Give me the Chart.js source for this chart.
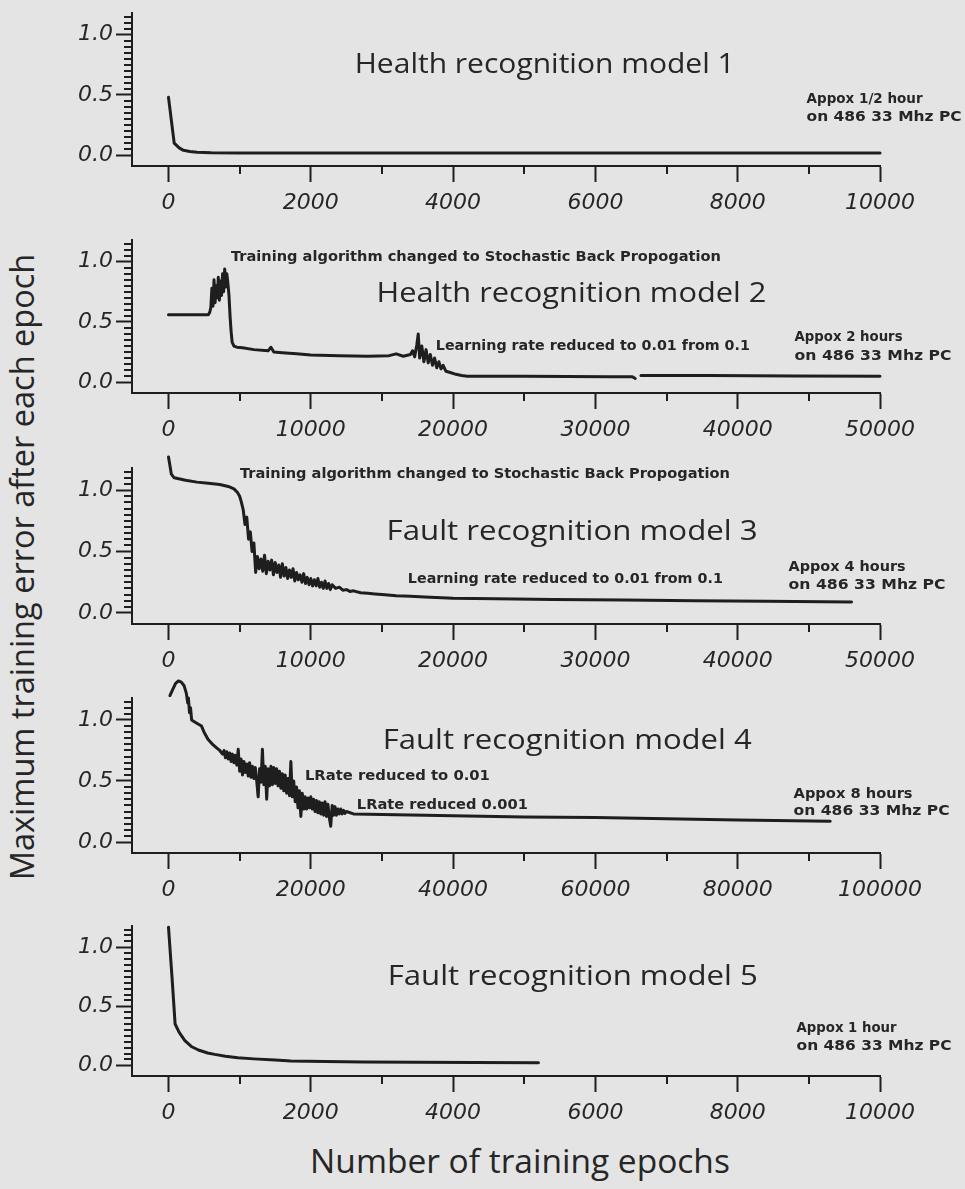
<!DOCTYPE html>
<html><head><meta charset="utf-8">
<script src="https://cdn.jsdelivr.net/npm/chart.js@4.4.0/dist/chart.umd.min.js"></script>
<style>
html,body{margin:0;padding:0;background:#e4e4e4;}
body{width:965px;height:1189px;position:relative;overflow:hidden;}
canvas{position:absolute;left:0;}
.axt{position:absolute;font-family:"Open Sans";color:#262626;white-space:nowrap;line-height:1;}
#ytitle{font-size:32.5px;left:22px;top:567px;transform:translate(-50%,-50%) rotate(-90deg);}
#xtitle{font-size:33.5px;left:520px;top:1161px;transform:translate(-50%,-50%);}
</style></head><body>
<div id="ytitle" class="axt">Maximum training error after each epoch</div>
<div id="xtitle" class="axt">Number of training epochs</div>
<canvas id="c1" width="965" height="243" style="top:-17px"></canvas>
<canvas id="c2" width="965" height="243" style="top:210px"></canvas>
<canvas id="c3" width="965" height="246" style="top:438px"></canvas>
<canvas id="c4" width="965" height="245" style="top:668px"></canvas>
<canvas id="c5" width="965" height="240" style="top:896px"></canvas>
<script>
// ---------------- data ----------------
const m1Epochs = [0, 80, 150, 210, 300, 400, 600, 1000, 2000, 4000, 6000, 8000, 10000];
const m1Errors = [0.48, 0.10, 0.06, 0.04, 0.03, 0.025, 0.02, 0.018, 0.017, 0.017, 0.018, 0.018, 0.018];

const m2Epochs = [0, 2800, 2900, 2975, 3050, 3125, 3200, 3275, 3350, 3425, 3500, 3575, 3650, 3725, 3800, 3875, 3950, 4025, 4100, 4175, 4250, 4325, 4400, 4475, 4600, 4800, 5200, 6000, 7000, 7200, 7400, 8000, 9000, 10000, 12000, 14000, 15500, 16000, 16500, 17000, 17150, 17300, 17450, 17550, 17650, 17800, 17950, 18100, 18250, 18400, 18550, 18700, 18850, 19000, 19150, 19300, 19500, 19800, 20200, 20600, 21000, 22000, 25000, 28000, 31000, 32600, 32800, 33000, 33200, 38000, 44000, 50000];
const m2Errors = [0.56, 0.56, 0.58, 0.62, 0.78, 0.63, 0.85, 0.66, 0.80, 0.70, 0.87, 0.68, 0.84, 0.72, 0.90, 0.75, 0.94, 0.79, 0.90, 0.82, 0.72, 0.55, 0.42, 0.33, 0.30, 0.29, 0.285, 0.27, 0.26, 0.29, 0.25, 0.245, 0.235, 0.225, 0.22, 0.215, 0.22, 0.235, 0.215, 0.23, 0.26, 0.21, 0.31, 0.40, 0.20, 0.30, 0.17, 0.27, 0.16, 0.23, 0.14, 0.20, 0.12, 0.17, 0.11, 0.14, 0.09, 0.08, 0.065, 0.055, 0.05, 0.05, 0.048, 0.047, 0.045, 0.045, 0.03, null, 0.055, 0.055, 0.052, 0.05];

const m3Epochs = [0, 100, 200, 400, 800, 1200, 2000, 2800, 3600, 4200, 4600, 4850, 5000, 5125, 5250, 5375, 5500, 5625, 5750, 5875, 6000, 6125, 6250, 6375, 6500, 6625, 6750, 6875, 7000, 7125, 7250, 7375, 7500, 7625, 7750, 7875, 8000, 8125, 8250, 8375, 8500, 8625, 8750, 8875, 9000, 9125, 9250, 9375, 9500, 9625, 9750, 9875, 10000, 10125, 10250, 10375, 10500, 10625, 10750, 10875, 11000, 11125, 11250, 11375, 11500, 11750, 12000, 12250, 12500, 12750, 13000, 13500, 14000, 14500, 15000, 16000, 17000, 18000, 20000, 23000, 27000, 32000, 37000, 42000, 48000];
const m3Errors = [1.27, 1.20, 1.13, 1.10, 1.09, 1.08, 1.065, 1.055, 1.045, 1.03, 1.01, 0.98, 0.95, 0.90, 0.84, 0.72, 0.78, 0.60, 0.66, 0.50, 0.57, 0.33, 0.46, 0.36, 0.44, 0.34, 0.47, 0.32, 0.42, 0.35, 0.43, 0.31, 0.41, 0.33, 0.39, 0.29, 0.40, 0.30, 0.37, 0.28, 0.35, 0.29, 0.36, 0.26, 0.33, 0.27, 0.31, 0.25, 0.32, 0.24, 0.29, 0.23, 0.28, 0.22, 0.27, 0.22, 0.28, 0.21, 0.25, 0.20, 0.26, 0.20, 0.24, 0.19, 0.23, 0.20, 0.21, 0.185, 0.19, 0.175, 0.18, 0.165, 0.16, 0.155, 0.15, 0.14, 0.135, 0.13, 0.12, 0.115, 0.11, 0.105, 0.10, 0.095, 0.09];

const m4Epochs = [200, 600, 1000, 1400, 1800, 2200, 2500, 2700, 2800, 2950, 3100, 3250, 3800, 4640, 5000, 5570, 6200, 6800, 7200, 7600, 7800, 8000, 8200, 8400, 8600, 8800, 9000, 9200, 9400, 9600, 9800, 10000, 10200, 10400, 10600, 10800, 11000, 11200, 11400, 11600, 11800, 12000, 12200, 12400, 12600, 12800, 13000, 13200, 13400, 13600, 13800, 14000, 14200, 14400, 14600, 14800, 15000, 15200, 15400, 15600, 15800, 16000, 16200, 16400, 16600, 16800, 17000, 17200, 17400, 17600, 17800, 18000, 18200, 18400, 18600, 18800, 19000, 19200, 19400, 19600, 19800, 20000, 20200, 20400, 20600, 20800, 21000, 21200, 21400, 21600, 21800, 22000, 22200, 22400, 22600, 22800, 23000, 23200, 23400, 23600, 23800, 24000, 24200, 24400, 24600, 24800, 25000, 26000, 30000, 40000, 50000, 60000, 70000, 80000, 93000];
const m4Errors = [1.20, 1.25, 1.30, 1.32, 1.31, 1.28, 1.22, 1.14, 1.18, 1.06, 1.10, 1.00, 0.98, 0.95, 0.90, 0.84, 0.80, 0.77, 0.75, 0.72, 0.75, 0.69, 0.74, 0.68, 0.73, 0.66, 0.72, 0.65, 0.71, 0.63, 0.76, 0.58, 0.68, 0.55, 0.66, 0.57, 0.64, 0.54, 0.65, 0.53, 0.62, 0.52, 0.61, 0.50, 0.37, 0.60, 0.49, 0.76, 0.47, 0.62, 0.35, 0.60, 0.46, 0.62, 0.47, 0.61, 0.48, 0.60, 0.46, 0.58, 0.44, 0.56, 0.42, 0.55, 0.40, 0.52, 0.38, 0.66, 0.37, 0.50, 0.33, 0.45, 0.28, 0.42, 0.21, 0.40, 0.27, 0.37, 0.27, 0.36, 0.28, 0.37, 0.27, 0.35, 0.25, 0.34, 0.24, 0.33, 0.23, 0.32, 0.22, 0.33, 0.21, 0.31, 0.20, 0.13, 0.30, 0.22, 0.29, 0.22, 0.27, 0.23, 0.27, 0.23, 0.26, 0.235, 0.25, 0.23, 0.225, 0.215, 0.205, 0.20, 0.19, 0.18, 0.17];

const m5Epochs = [0, 50, 93, 150, 230, 320, 420, 550, 650, 800, 975, 1200, 1500, 1720, 2200, 2740, 3500, 4300, 5200];
const m5Errors = [1.17, 0.74, 0.35, 0.28, 0.21, 0.16, 0.13, 0.105, 0.093, 0.078, 0.065, 0.055, 0.045, 0.038, 0.032, 0.028, 0.026, 0.024, 0.022];

const xTicks10k = [0, 2000, 4000, 6000, 8000, 10000];
const xTicks50k = [0, 10000, 20000, 30000, 40000, 50000];
const xTicks100k = [0, 20000, 40000, 60000, 80000, 100000];
const yTickValues = [0, 0.5, 1.0];
const yTickLabels = ['0.0', '0.5', '1.0'];

const panelTitles = ['Health recognition model 1', 'Health recognition model 2', 'Fault recognition model 3', 'Fault recognition model 4', 'Fault recognition model 5'];
const machineNote = 'on 486 33 Mhz PC';
const timeNotes = ['Appox 1/2 hour', 'Appox 2 hours', 'Appox 4 hours', 'Appox 8 hours', 'Appox 1 hour'];
const algoNote = 'Training algorithm changed to Stochastic Back Propogation';
const lrNote = 'Learning rate reduced to 0.01 from 0.1';
const lrNote4a = 'LRate reduced to 0.01';
const lrNote4b = 'LRate reduced 0.001';

// ---------------- style ----------------
const INK = '#1e1e1e';
const TXT = '#262626';
const TITLE_FONT = '28px "Open Sans"';
const NOTE_FONT = 'bold 14px "DejaVu Sans"';

const decor = {
  id: 'decor',
  afterDraw(chart, args, o) {
    const ctx = chart.ctx, xs = chart.scales.x, ys = chart.scales.y, ca = chart.chartArea;
    ctx.save();
    ctx.strokeStyle = INK; ctx.lineWidth = 2;
    ctx.beginPath();
    o.xMinor.forEach(v => { const p = Math.round(xs.getPixelForValue(v)); ctx.moveTo(p, ca.bottom); ctx.lineTo(p, ca.bottom + 8); });
    o.yMinor.forEach(v => { const p = Math.round(ys.getPixelForValue(v)); ctx.moveTo(ca.left - 8, p); ctx.lineTo(ca.left, p); });
    ctx.stroke();
    ctx.fillStyle = TXT; ctx.textBaseline = 'middle';
    o.notes.forEach(n => {
      ctx.font = n.font;
      ctx.textAlign = n.align;
      const w = ctx.measureText(n.text).width;
      ctx.save();
      ctx.translate(xs.getPixelForValue(n.x), ys.getPixelForValue(n.y));
      ctx.scale(n.w / w, 1);
      ctx.fillText(n.text, 0, 0);
      ctx.restore();
    });
    ctx.restore();
  }
};

function minorBetween(ticks) {
  const out = [];
  for (let i = 0; i < ticks.length - 1; i++) out.push((ticks[i] + ticks[i + 1]) / 2);
  return out;
}
const yMinor = [];
for (let k = 1; k <= 23; k++) if (k % 10 !== 0) yMinor.push(k * 0.05);

function makeChart(id, epochs, errors, xTicks, notes) {
  const xmax = xTicks[xTicks.length - 1];
  const tickFont = { family: '"DejaVu Sans"', size: 22, style: 'italic' };
  new Chart(document.getElementById(id), {
    type: 'line',
    data: { datasets: [{
      data: epochs.map((e, i) => ({ x: e, y: errors[i] })),
      borderColor: INK, borderWidth: 3, pointRadius: 0, tension: 0,
      clip: false, spanGaps: false, borderJoinStyle: 'round', borderCapStyle: 'round'
    }] },
    options: {
      responsive: false, animation: false, events: [],
      layout: { padding: { top: 30, right: 85, left: 0, bottom: 0 } },
      plugins: { legend: { display: false }, tooltip: { enabled: false },
        decor: { xMinor: minorBetween(xTicks), yMinor: yMinor, notes: notes } },
      scales: {
        x: {
          type: 'linear', min: -0.0513 * xmax, max: xmax,
          afterBuildTicks: s => { s.ticks = xTicks.map(v => ({ value: v })); },
          afterFit: s => { s.height = 60; },
          grid: { drawOnChartArea: false, tickLength: 16, tickWidth: 2, tickColor: INK },
          border: { color: INK, width: 2 },
          ticks: { font: tickFont, color: TXT, padding: 8, maxRotation: 0, autoSkip: false, callback: v => String(v) }
        },
        y: {
          min: -0.09, max: 1.18,
          afterBuildTicks: s => { s.ticks = yTickValues.map(v => ({ value: v })); },
          afterFit: s => { s.width = 132; },
          grid: { drawOnChartArea: false, tickLength: 16, tickWidth: 2, tickColor: INK },
          border: { color: INK, width: 2 },
          ticks: { font: tickFont, color: TXT, padding: 3, callback: (v, i) => yTickLabels[i] }
        }
      }
    },
    plugins: [decor]
  });
}

const T = (text, x, y, w) => ({ text, x, y, w, font: TITLE_FONT, align: 'center' });
const N = (text, x, y, w) => ({ text, x, y, w, font: NOTE_FONT, align: 'left' });

makeChart('c1', m1Epochs, m1Errors, xTicks10k, [
  T(panelTitles[0], 5288, 0.75, 380),
  N(timeNotes[0], 8968, 0.466, 116), N(machineNote, 8968, 0.316, 155)
]);
makeChart('c2', m2Epochs, m2Errors, xTicks50k, [
  N(algoNote, 4389, 1.039, 490),
  T(panelTitles[1], 28315, 0.733, 390),
  N(lrNote, 18785, 0.295, 314),
  N(timeNotes[1], 43996, 0.369, 108), N(machineNote, 43996, 0.212, 157)
]);
makeChart('c3', m3Epochs, m3Errors, xTicks50k, [
  N(algoNote, 5021, 1.125, 490),
  T(panelTitles[2], 28364, 0.659, 371),
  N(lrNote, 16819, 0.275, 315),
  N(timeNotes[2], 43575, 0.373, 117), N(machineNote, 43575, 0.226, 157)
]);
makeChart('c4', m4Epochs, m4Errors, xTicks100k, [
  T(panelTitles[3], 56039, 0.825, 369),
  N(lrNote4a, 19171, 0.539, 185),
  N(lrNote4b, 26475, 0.30, 171),
  N(timeNotes[3], 87851, 0.391, 119), N(machineNote, 87851, 0.252, 156)
]);
makeChart('c5', m5Epochs, m5Errors, xTicks10k, [
  T(panelTitles[4], 5681, 0.744, 370),
  N(timeNotes[4], 8827, 0.313, 100), N(machineNote, 8827, 0.16, 155)
]);
</script>
</body></html>
